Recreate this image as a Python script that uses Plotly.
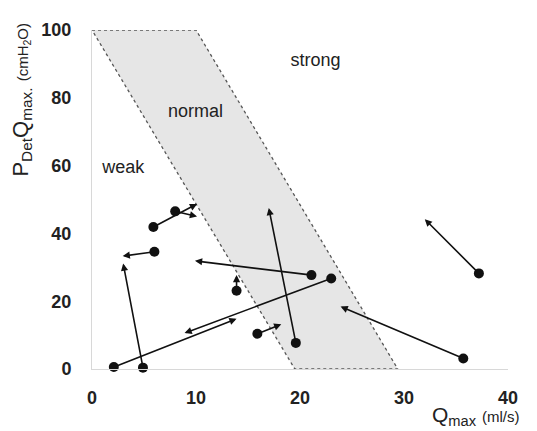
import plotly.graph_objects as go

# Nomogram zone (weak / normal / strong contractility bands)
zone_x = [0, 10, 29.4, 19.5, 0]
zone_y = [100, 100, 0, 0, 100]

# Arrows: start (filled circle) -> end (arrow head)
start_x = [5.9, 8.0, 6.0, 4.9, 2.1, 23.0, 21.1, 13.9, 15.9, 19.6, 37.2, 35.7]
start_y = [41.9, 46.5, 34.6, 0.4, 0.6, 26.7, 27.7, 23.1, 10.4, 7.7, 28.2, 3.1]
end_x = [10.1, 10.1, 2.95, 3.0, 13.9, 8.9, 9.9, 13.9, 18.2, 17.0, 32.0, 23.9]
end_y = [48.7, 45.0, 33.3, 31.1, 14.8, 10.6, 31.9, 27.7, 13.2, 47.5, 44.2, 18.4]

region_labels = ["weak", "normal", "strong"]
region_x = [3.0, 9.95, 21.5]
region_y = [59.1, 75.7, 90.6]

x_ticks = [0, 10, 20, 30, 40]
y_ticks = [0, 20, 40, 60, 80, 100]

fig = go.Figure()

fig.add_trace(go.Scatter(
    x=zone_x, y=zone_y, mode="lines", fill="toself",
    fillcolor="#e6e6e6",
    line=dict(color="#555555", width=1.3, dash="dot"),
    hoverinfo="skip", showlegend=False, cliponaxis=False,
))

for sx, sy, ex, ey in zip(start_x, start_y, end_x, end_y):
    fig.add_annotation(
        x=ex, y=ey, ax=sx, ay=sy, xref="x", yref="y", axref="x", ayref="y",
        text="", showarrow=True, arrowhead=2, arrowsize=0.9, arrowwidth=1.6,
        arrowcolor="#111111", standoff=0, startstandoff=0,
    )

fig.add_trace(go.Scatter(
    x=start_x, y=start_y, mode="markers",
    marker=dict(color="#111111", size=10),
    hoverinfo="skip", showlegend=False, cliponaxis=False,
))

fig.add_trace(go.Scatter(
    x=region_x, y=region_y, mode="text", text=region_labels,
    textfont=dict(family="Liberation Sans, Arial, sans-serif", size=18, color="#222222"),
    hoverinfo="skip", showlegend=False,
))

fig.add_annotation(
    xref="paper", yref="paper", x=-0.168, y=0.795,
    xanchor="center", yanchor="middle", textangle=-90, showarrow=False,
    text="P<sub>Det</sub>Q<sub>max.</sub> <span style='font-size:15px'>(cmH<sub>2</sub>O)</span>",
    font=dict(family="Liberation Sans, Arial, sans-serif", size=22, color="#222222"),
)
fig.add_annotation(
    xref="paper", yref="paper", x=0.923, y=-0.14,
    xanchor="center", yanchor="middle", showarrow=False,
    text="Q<sub>max</sub> <span style='font-size:15px'>(ml/s)</span>",
    font=dict(family="Liberation Sans, Arial, sans-serif", size=21, color="#222222"),
)

tick_font = dict(family="Liberation Sans, Arial, sans-serif", size=18, color="#222222")

fig.update_xaxes(
    range=[0, 40], tickvals=x_ticks, ticktext=["<b>%d</b>" % v for v in x_ticks],
    showgrid=False, zeroline=False, showline=True, linecolor="#d8d8d8", linewidth=1,
    ticks="", ticklabelstandoff=12, tickfont=tick_font, fixedrange=True,
)
fig.update_yaxes(
    range=[0, 100], tickvals=y_ticks, ticktext=["<b>%d</b>" % v for v in y_ticks],
    showgrid=False, zeroline=False, showline=True, linecolor="#d8d8d8", linewidth=1,
    ticks="", ticklabelstandoff=16, tickfont=tick_font, fixedrange=True,
)

# page body has an 8px default margin, so the figure is shrunk and shifted to fit
fig.update_layout(
    width=529, height=423,
    margin=dict(l=84, r=29, t=19, b=62),
    plot_bgcolor="white", paper_bgcolor="white",
    showlegend=False,
)

fig.write_html("out.html")
